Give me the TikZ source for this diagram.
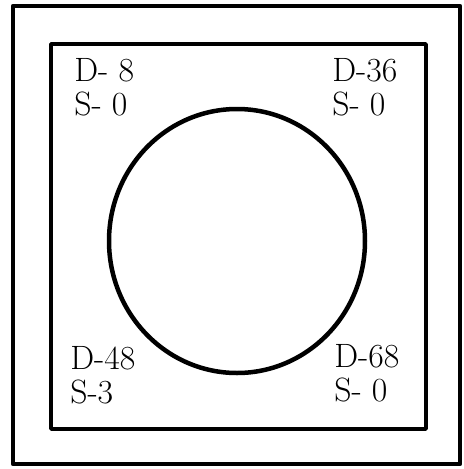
\documentclass[tikz,border=0pt]{standalone}
\tikzset{
	plate/.style={line width=3.2pt},
	frame/.style={line width=2.6pt},
	lab/.style={inner sep=0pt,align=left,anchor=north west,font=\fontsize{24}{24}\selectfont}
}
\begin{document}
\begin{tikzpicture}[x=0.025cm,y=-0.025cm,line join=round,line cap=round]
	\useasboundingbox (0,0) rectangle (464,469);
	\path
	(13,6) coordinate (A1) (460,464) coordinate (A2)
	(51,44) coordinate (B1) (426,429) coordinate (B2)
	(237,241) coordinate (O);
	
	\draw[plate] (A1) rectangle (A2);
	\draw[frame] (B1) rectangle (B2);
	\draw[plate] (O) ellipse (128 and 132);
	
	\node[lab] (dA) at (74,58) {D- 8\\S- 0};
	\node[lab] (dB) at (332,58) {D-36\\S- 0};
	\node[lab] (dC) at (70,346) {D-48\\S-3};
	\node[lab] (dD) at (334,344) {D-68\\S- 0};
	
\end{tikzpicture}
\end{document}
